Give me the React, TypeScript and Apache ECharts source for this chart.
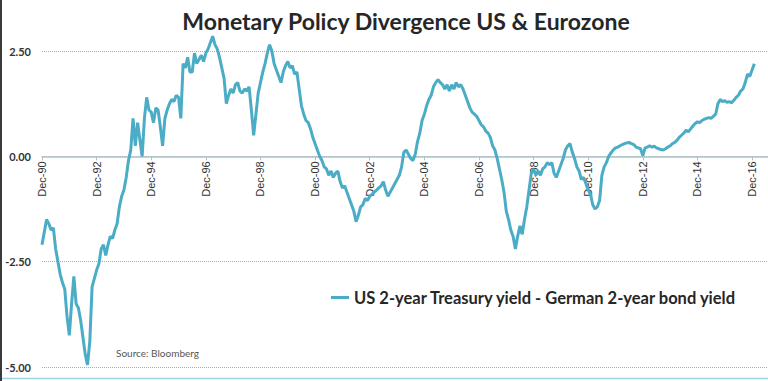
import React, { useEffect, useRef } from "react";
import * as echarts from "echarts";

// Month categories from Dec-90 onwards (axis slots), labels only on Dec of even years
const START_YEAR = 1990;
const START_MONTH = 11; // December (0-based)
const MONTH_SLOTS = 320;
const MONTH_NAMES = ["Jan", "Feb", "Mar", "Apr", "May", "Jun", "Jul", "Aug", "Sep", "Oct", "Nov", "Dec"];
const categories: string[] = [];
for (let i = 0; i < MONTH_SLOTS; i++) {
  const m = (START_MONTH + i) % 12;
  const y = START_YEAR + Math.floor((START_MONTH + i) / 12);
  categories.push(MONTH_NAMES[m] + "-" + String(y % 100).padStart(2, "0"));
}
const tickLabels = ["Dec-90", "Dec-92", "Dec-94", "Dec-96", "Dec-98", "Dec-00", "Dec-02", "Dec-04", "Dec-06", "Dec-08", "Dec-10", "Dec-12", "Dec-14", "Dec-16"];
const yTicks = [2.5, 0, -2.5, -5];

const seriesName = "US 2-year Treasury yield - German 2-year bond yield";

// Monthly spread values (pct points), Dec-1990 .. Jan-2017
const spread1990s = [
  -2.1, -1.8, -1.5, -1.6, -1.75, -1.7, -2.2, -2.5, -2.8, -3.0, -3.15, -3.8,
  -4.25, -3.5, -2.85, -3.5, -3.6, -3.9, -4.3, -4.7, -4.95, -4.4, -3.1, -2.9,
  -2.7, -2.55, -2.2, -2.1, -2.35, -2.1, -1.9, -1.95, -1.75, -1.6, -1.2, -0.95,
  -0.8, -0.5, -0.1, 0.15, 0.9, 0.25, 0.8, 0.4, 0.0, 0.9, 1.4, 1.1,
  1.05, 0.8, 1.15, 1.1, 0.7, 0.25, 0.9, 1.1, 1.25, 1.35, 1.3, 1.45,
  1.4, 0.9, 2.2, 2.1, 2.35, 2.0, 2.0, 2.45, 2.2, 2.3, 2.4, 2.25,
  2.45, 2.55, 2.7, 2.85, 2.65, 2.55, 2.35, 2.1, 1.85, 1.25, 1.45, 1.6,
  1.5, 1.7, 1.75, 1.55, 1.5, 1.6, 1.55, 1.65, 1.1, 0.5, 1.0, 1.5,
  1.75, 2.0, 2.2, 2.45, 2.65, 2.5, 2.2, 2.05, 1.9, 1.75, 2.0, 2.15,
  2.25, 2.1, 2.15, 1.95, 2.0, 1.6, 1.2, 1.0, 0.85, 0.8, 0.65, 0.45,
];
const spread2000s = [
  0.3, 0.15, 0.0, -0.1, -0.25, -0.3, -0.45, -0.35, -0.5, -0.4, -0.35, -0.6,
  -0.75, -0.7, -0.85, -1.0, -1.15, -1.3, -1.55, -1.4, -1.2, -1.15, -1.0, -1.05,
  -0.95, -0.9, -0.85, -0.8, -0.75, -0.7, -0.6, -0.8, -0.95, -0.85, -0.75, -0.65,
  -0.55, -0.45, -0.25, 0.1, 0.15, 0.05, -0.05, -0.1, 0.05, 0.35, 0.55, 0.85,
  1.0, 1.2, 1.35, 1.45, 1.65, 1.75, 1.82, 1.75, 1.7, 1.6, 1.7, 1.55,
  1.7, 1.6, 1.75, 1.65, 1.7, 1.6, 1.45, 1.3, 1.15, 1.05, 1.0, 0.95,
  0.85, 0.75, 0.7, 0.6, 0.55, 0.45, 0.25, 0.15, -0.05, -0.3, -0.55, -0.85,
  -1.3, -1.5, -1.75, -1.9, -2.2, -1.9, -1.65, -1.85, -1.5, -1.2, -0.8, -0.4,
  -0.3, -0.45, -0.35, -0.45, -0.3, -0.25, -0.15, -0.2, -0.15, -0.4, -0.5, -0.35,
  -0.2, -0.05, 0.15, 0.25, 0.3, 0.1, -0.05, -0.25, -0.35, -0.55, -0.5, -0.65,
];
const spread2010s = [
  -0.8, -0.9, -1.15, -1.25, -1.2, -1.05, -0.45, -0.25, -0.15, 0.0, 0.08, 0.15,
  0.2, 0.22, 0.25, 0.28, 0.3, 0.32, 0.33, 0.3, 0.28, 0.22, 0.2, 0.18,
  0.02, 0.2, 0.22, 0.25, 0.22, 0.24, 0.2, 0.18, 0.16, 0.15, 0.18, 0.22,
  0.25, 0.3, 0.33, 0.38, 0.45, 0.5, 0.55, 0.62, 0.58, 0.65, 0.72, 0.78,
  0.82, 0.8, 0.85, 0.88, 0.9, 0.92, 0.9, 0.95, 1.0, 1.25, 1.35, 1.3,
  1.32, 1.28, 1.3, 1.27, 1.33, 1.4, 1.45, 1.55, 1.6, 1.75, 1.95, 1.9,
  2.05, 2.2,
];
const spreadValues = [...spread1990s, ...spread2000s, ...spread2010s];

const LINE_COLOR = "#4bacc6";
const GRID_COLOR = "#6cc3d5";

const GRID_TOP = 51;
const GRID_BOTTOM = 14;
const CHART_H = 381;

export default function App() {
  const ref = useRef<HTMLDivElement>(null);
  useEffect(() => {
    if (!ref.current) return;
    const chart = echarts.init(ref.current, null, { renderer: "svg" });
    const yMin = yTicks[yTicks.length - 1];
    const yMax = yTicks[0];
    const plotH = CHART_H - GRID_TOP - GRID_BOTTOM;
    // move the category axis (line, ticks, labels) up to the y = 0 level
    const zeroOffset = -plotH * (0 - yMin) / (yMax - yMin);
    chart.setOption({
      animation: false,
      backgroundColor: "#ffffff",
      title: {
        text: "Monetary Policy Divergence US & Eurozone",
        left: 401,
        textAlign: "center",
        top: 4,
        textStyle: { fontFamily: "Lato", fontWeight: "bold", fontSize: 23, color: "#262626" },
      },
      legend: {
        left: 326,
        top: 284,
        icon: "rect",
        itemWidth: 18,
        itemHeight: 3,
        itemGap: 4,
        textStyle: { fontFamily: "Lato", fontWeight: "bold", fontSize: 16.5, color: "#262626" },
        data: [seriesName],
      },
      grid: { left: 42, right: 0, top: GRID_TOP, bottom: GRID_BOTTOM, containLabel: false, outerBoundsMode: "none" },
      xAxis: {
        type: "category",
        data: categories,
        boundaryGap: false,
        position: "bottom",
        offset: zeroOffset,
        axisLine: { onZero: false, lineStyle: { color: "#bdbdbd", width: 1.5 } },
        axisTick: {
          show: true,
          length: 4,
          interval: (i: number) => tickLabels.includes(categories[i]),
          lineStyle: { color: "#bdbdbd" },
        },
        axisLabel: {
          interval: (i: number) => tickLabels.includes(categories[i]),
          rotate: 90,
          margin: 5,
          fontFamily: "Liberation Sans",
          fontSize: 11,
          color: "#333",
        },
        splitLine: { show: false },
      },
      yAxis: {
        type: "value",
        min: yMin,
        max: yMax,
        interval: 2.5,
        axisLine: { show: false },
        axisTick: { show: false },
        axisLabel: {
          formatter: (v: number) => v.toFixed(2),
          margin: 11,
          fontFamily: "Lato",
          fontWeight: "bold",
          fontSize: 11,
          color: "#333",
        },
        splitLine: { lineStyle: { color: GRID_COLOR, type: [1, 1], width: 1 } },
      },
      series: [
        {
          name: seriesName,
          type: "line",
          data: spreadValues,
          symbol: "none",
          showSymbol: false,
          clip: false,
          lineStyle: { color: LINE_COLOR, width: 3 },
          itemStyle: { color: LINE_COLOR },
        },
      ],
      graphic: [
        {
          type: "text",
          left: 116,
          top: 348,
          style: { text: "Source: Bloomberg", fontFamily: "Lato", fontSize: 10, fill: "#555" },
        },
        {
          type: "line",
          shape: { x1: 0, y1: 378.5, x2: 768, y2: 378.5 },
          style: { stroke: "#9fd3df", lineWidth: 1.5 },
        },
        {
          type: "rect",
          shape: { x: 0, y: 0, width: 2, height: 381 },
          style: { fill: "#3a3a3a" },
        },
      ],
    });
    return () => chart.dispose();
  }, []);
  return (
    <div
      ref={ref}
      style={{ position: "fixed", left: 0, top: 0, width: 768, height: 381, background: "#fff" }}
    />
  );
}
